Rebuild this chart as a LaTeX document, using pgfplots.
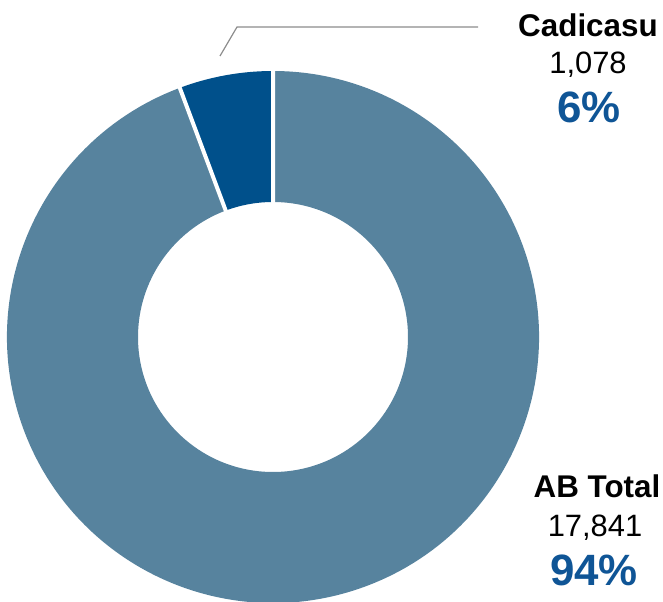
\documentclass[border=0pt]{standalone}
\usepackage{pgfplots}
\pgfplotsset{compat=1.18}
\usepackage{pgfplotstable}
\usepackage{fontspec}
\setmainfont{Liberation Sans}

\definecolor{abtotal}{HTML}{57839E}
\definecolor{cadicasu}{HTML}{00508B}
\definecolor{pctblue}{HTML}{0F5596}
\definecolor{leader}{HTML}{8C8C8C}

% slice values
\pgfplotstableread{
name value
ABTotal 17841
Cadicasu 1078
}\sharestable

\begin{document}
\begin{tikzpicture}
\pgfplotstablegetelem{0}{value}\of\sharestable \let\valA\pgfplotsretval
\pgfplotstablegetelem{1}{value}\of\sharestable \let\valB\pgfplotsretval
% Cadicasu runs anticlockwise from 12 o'clock, AB Total takes the rest
\edef\endB{\fpeval{90+360*\valB/(\valA+\valB)}}
\def\Rout{266bp}
\def\Rin{135bp}
\begin{axis}[x=1bp, y=1bp, xmin=0, xmax=663, ymin=0, ymax=602,
  hide axis, scale only axis, at={(0,0)}, anchor=south west, clip=false]
  \fill[abtotal, shift={(axis cs:273,265)}]
    (\endB:\Rout) arc[start angle=\endB, end angle=450, radius=\Rout]
    -- (450:\Rin) arc[start angle=450, end angle=\endB, radius=\Rin] -- cycle;
  \fill[cadicasu, shift={(axis cs:273,265)}]
    (90:\Rout) arc[start angle=90, end angle=\endB, radius=\Rout]
    -- (\endB:\Rin) arc[start angle=\endB, end angle=90, radius=\Rin] -- cycle;
  \draw[white, line width=4bp, shift={(axis cs:273,265)}]
    (90:133bp) -- (90:268bp) (\endB:133bp) -- (\endB:268bp);

  \draw[leader, line width=1.2bp] (axis cs:220,546) -- (axis cs:237,575) -- (axis cs:478,575);

  \node[anchor=base, inner sep=0pt, font=\fontsize{31.5}{36}\selectfont\bfseries] at (axis cs:588,565) {Cadicasu};
  \node[anchor=base, inner sep=0pt, font=\fontsize{31}{36}\selectfont] at (axis cs:588,528) {1,078};
  \node[anchor=base, inner sep=0pt, text=pctblue, font=\fontsize{44}{50}\selectfont\bfseries] at (axis cs:589,479) {6\%};

  \node[anchor=base, inner sep=0pt, font=\fontsize{31.5}{36}\selectfont\bfseries] at (axis cs:597,105) {AB Total};
  \node[anchor=base, inner sep=0pt, font=\fontsize{31}{36}\selectfont] at (axis cs:595,66) {17,841};
  \node[anchor=base, inner sep=0pt, text=pctblue, font=\fontsize{44}{50}\selectfont\bfseries] at (axis cs:594,17) {94\%};
\end{axis}
\pgfresetboundingbox
\useasboundingbox (0,0) rectangle (663bp,602bp);
\end{tikzpicture}
\end{document}
